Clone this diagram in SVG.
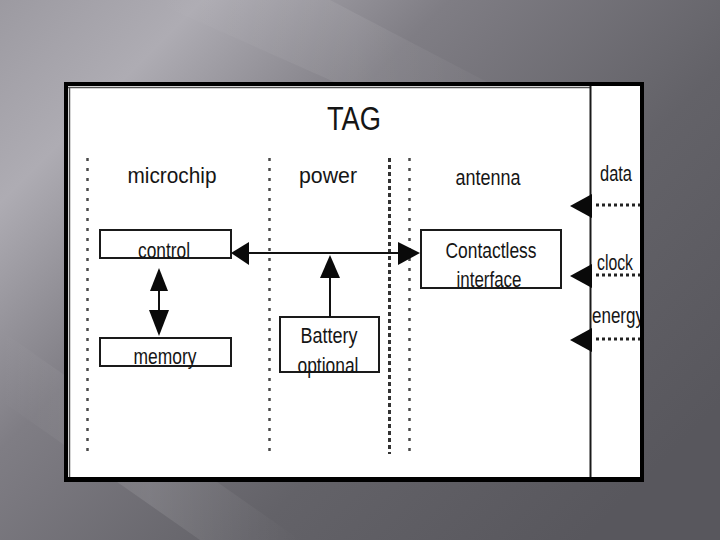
<svg xmlns="http://www.w3.org/2000/svg" width="720" height="540" viewBox="0 0 720 540">
  <defs>
    <linearGradient id="bg" x1="0" y1="0" x2="1" y2="0.75">
      <stop offset="0" stop-color="#9c9aa1"/>
      <stop offset="0.18" stop-color="#aeacb3"/>
      <stop offset="0.4" stop-color="#7f7d84"/>
      <stop offset="0.7" stop-color="#636268"/>
      <stop offset="1" stop-color="#58575d"/>
    </linearGradient>
    <linearGradient id="streak" x1="0" y1="0" x2="1" y2="0">
      <stop offset="0" stop-color="#ffffff" stop-opacity="0"/>
      <stop offset="0.5" stop-color="#ffffff" stop-opacity="0.12"/>
      <stop offset="1" stop-color="#ffffff" stop-opacity="0"/>
    </linearGradient>
    <clipPath id="inner">
      <rect x="68" y="86" width="572" height="391"/>
    </clipPath>
    <style>
      .lbl { font-family: "Liberation Sans", Arial, sans-serif; fill: #151515; }
      .box { fill: #ffffff; stroke: #1a1a1a; stroke-width: 2; }
      .dot { stroke: #4a4a4a; stroke-width: 2.5; stroke-dasharray: 3 7; fill: none; }
      .dotd { stroke: #333; stroke-width: 3; stroke-dasharray: 4 3; fill: none; }
      .wire { stroke: #111; stroke-width: 2; fill: none; }
      .head { fill: #0a0a0a; }
      .rdot { stroke: #222; stroke-width: 3; stroke-dasharray: 3 3; fill: none; }
    </style>
  </defs>

  <!-- background -->
  <rect x="0" y="0" width="720" height="540" fill="url(#bg)"/>
  <polygon points="0,330 0,400 200,540 300,540" fill="url(#streak)" opacity="0.9"/>
  <polygon points="150,0 330,0 560,120 420,120" fill="url(#streak)" opacity="0.6"/>

  <!-- frame -->
  <rect x="64" y="82" width="580" height="400" fill="#000"/>
  <rect x="68" y="86" width="572" height="391" fill="#fff"/>
  <line x1="69.5" y1="87" x2="69.5" y2="477" stroke="#555" stroke-width="1.5"/>
  <line x1="68" y1="87.5" x2="591" y2="87.5" stroke="#555" stroke-width="1.5"/>
  <line x1="590.5" y1="86" x2="590.5" y2="477" stroke="#1a1a1a" stroke-width="2"/>

  <!-- title and column labels -->
  <text class="lbl" x="354" y="130" font-size="34" text-anchor="middle" textLength="54" lengthAdjust="spacingAndGlyphs">TAG</text>
  <text class="lbl" x="172" y="183" font-size="22" text-anchor="middle" textLength="89" lengthAdjust="spacingAndGlyphs">microchip</text>
  <text class="lbl" x="328" y="183" font-size="22" text-anchor="middle" textLength="58" lengthAdjust="spacingAndGlyphs">power</text>
  <text class="lbl" x="488" y="185" font-size="22" text-anchor="middle" textLength="65" lengthAdjust="spacingAndGlyphs">antenna</text>
  <g clip-path="url(#inner)">
    <text class="lbl" x="600" y="181" font-size="22" textLength="32" lengthAdjust="spacingAndGlyphs">data</text>
    <text class="lbl" x="597" y="270" font-size="22" textLength="36" lengthAdjust="spacingAndGlyphs">clock</text>
    <text class="lbl" x="592" y="323" font-size="22" textLength="52" lengthAdjust="spacingAndGlyphs">energy</text>
  </g>

  <!-- dotted separators -->
  <g id="separators">
    <line class="dot" x1="87.5" y1="158" x2="87.5" y2="452"/>
    <line class="dot" x1="269.5" y1="158" x2="269.5" y2="452"/>
    <line class="dotd" x1="389.5" y1="158" x2="389.5" y2="454"/>
    <line class="dot" x1="409.5" y1="158" x2="409.5" y2="452"/>
  </g>

  <!-- nodes -->
  <g id="control">
    <rect class="box" x="100" y="230" width="131" height="28"/>
    <text class="lbl" x="164" y="258" font-size="22" text-anchor="middle" textLength="52" lengthAdjust="spacingAndGlyphs">control</text>
  </g>
  <g id="memory">
    <rect class="box" x="100" y="338" width="131" height="28"/>
    <text class="lbl" x="165" y="364" font-size="22" text-anchor="middle" textLength="63" lengthAdjust="spacingAndGlyphs">memory</text>
  </g>
  <g id="battery">
    <rect class="box" x="280" y="317" width="99" height="55"/>
    <text class="lbl" x="329" y="343" font-size="22" text-anchor="middle" textLength="57" lengthAdjust="spacingAndGlyphs">Battery</text>
    <text class="lbl" x="328" y="373" font-size="22" text-anchor="middle" textLength="61" lengthAdjust="spacingAndGlyphs">optional</text>
  </g>
  <g id="contactless">
    <rect class="box" x="421" y="230" width="140" height="58"/>
    <text class="lbl" x="491" y="258" font-size="22" text-anchor="middle" textLength="91" lengthAdjust="spacingAndGlyphs">Contactless</text>
    <text class="lbl" x="489" y="287" font-size="22" text-anchor="middle" textLength="65" lengthAdjust="spacingAndGlyphs">interface</text>
  </g>

  <!-- connectors -->
  <g id="connectors">
    <line class="wire" x1="245" y1="253" x2="400" y2="253"/>
    <polygon class="head" points="231,253 249,242 249,265"/>
    <polygon class="head" points="420,253 398,242 398,265"/>
    <line class="wire" x1="330" y1="317" x2="330" y2="270"/>
    <polygon class="head" points="330,255 320,278 340,278"/>
    <line class="wire" x1="159" y1="285" x2="159" y2="315"/>
    <polygon class="head" points="159,268 150,291 168,291"/>
    <polygon class="head" points="159,336 149,310 169,310"/>
    <!-- external inputs -->
    <polygon class="head" points="570,206 592,194 592,218"/>
    <line class="rdot" x1="596" y1="205" x2="640" y2="205"/>
    <polygon class="head" points="570,276 592,264 592,288"/>
    <line class="rdot" x1="596" y1="275" x2="640" y2="275"/>
    <polygon class="head" points="570,340 592,328 592,352"/>
    <line class="rdot" x1="596" y1="339" x2="640" y2="339"/>
  </g>
</svg>
